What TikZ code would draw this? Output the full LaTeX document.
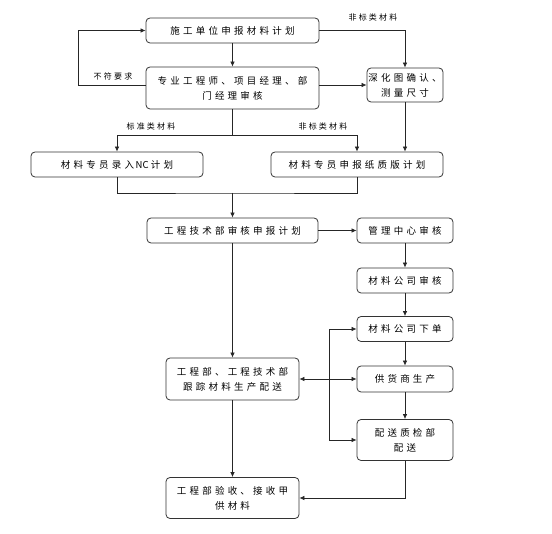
\documentclass[tikz,border=0pt]{standalone}
\usepackage{fontspec}
\usepackage{tikz}
\usetikzlibrary{arrows.meta}
\newfontfamily\cjk[LetterSpace=34]{Noto Sans CJK SC}
\newfontfamily\cjkplain{Noto Sans CJK SC}
\newfontfamily\cjksmall[LetterSpace=28]{Noto Sans CJK SC}

\begin{document}
\begin{tikzpicture}[x=1pt, y=-1pt]
        \tikzstyle{every node}=[inner sep=0pt, align=center]
        \tikzstyle{box}=[draw=black!80, line width=0.8pt, rounded corners=4pt, font=\cjk\fontsize{9.5}{15}\selectfont]
        \tikzstyle{tag}=[font=\cjksmall\fontsize{8}{10}\selectfont]
        \tikzstyle{line}=[draw=black!85, line width=0.7pt]
        \tikzstyle{arr}=[line, -{Latex[length=5pt, width=4.5pt]}]

        \useasboundingbox (0,0) rectangle (552,534);

        \node (plan)    [box, minimum width=173pt, minimum height=25pt] at (232.5,30.5) {施工单位申报材料计划};
        \node (check)   [box, minimum width=173pt, minimum height=42pt] at (232.5,88) {专业工程师、项目经理、部\\门经理审核};
        \node (detail)  [box, minimum width=76pt,  minimum height=34pt] at (405,85) {深化图确认、\\测量尺寸};
        \node (nc)      [box, minimum width=172pt, minimum height=25pt] at (117,164.5) {材料专员录入{\cjkplain\,NC\ }计划};
        \node (paper)   [box, minimum width=172pt, minimum height=25pt] at (357,164.5) {材料专员申报纸质版计划};
        \node (tech)    [box, minimum width=171pt, minimum height=25pt] at (232.5,230.5) {工程技术部审核申报计划};
        \node (mgmt)    [box, minimum width=96pt,  minimum height=25pt] at (405,230.5) {管理中心审核};
        \node (review)  [box, minimum width=96pt,  minimum height=25pt] at (405,280.5) {材料公司审核};
        \node (order)   [box, minimum width=96pt,  minimum height=25pt] at (405,329) {材料公司下单};
        \node (produce) [box, minimum width=96pt,  minimum height=26pt] at (405,379) {供货商生产};
        \node (ship)    [box, minimum width=96pt,  minimum height=41pt] at (405,440) {配送质检部\\配送};
        \node (track)   [box, minimum width=133pt, minimum height=42pt] at (232.5,379) {工程部、工程技术部\\跟踪材料生产配送};
        \node (accept)  [box, minimum width=133pt, minimum height=41pt] at (232.5,498) {工程部验收、接收甲\\供材料};

        % top part
        \draw[arr] (plan) -- (check);
        \draw[arr] (plan.east) -| (detail.north);
        \node (tagtop) [tag] at (373,17) {非标类材料};
        \draw[arr] (check.east |- detail) -- (detail.west);
        \draw[arr] (check.west |- detail) -- ++(-67,0) |- (plan.west);
        \node (tagback) [tag] at (113,76) {不符要求};

        % split into two plans
        \coordinate (split) at (232.5,135);
        \draw[line] (check) -- (split);
        \draw[arr] (split) -| (nc.north);
        \draw[arr] (split) -| (paper.north);
        \draw[arr] (detail) -- (detail |- paper.north);
        \node (tagstd) [tag] at (151,126) {标准类材料};
        \node (tagnon) [tag] at (323,126) {非标类材料};

        % merge
        \coordinate (merge) at (232.5,193);
        \draw[line] (nc.south) |- (merge) -| (paper.south);
        \draw[arr] (merge) -- (tech);

        % right column
        \draw[arr] (tech) -- (mgmt);
        \draw[arr] (mgmt) -- (review);
        \draw[arr] (review) -- (order);
        \draw[arr] (order) -- (produce);
        \draw[arr] (produce) -- (ship);
        \coordinate (loop) at (329,379);
        \draw[arr] (loop) |- (order.west);
        \draw[arr] (loop) |- (ship.west);
        \draw[arr, {Latex[length=5pt, width=4.5pt]}-{Latex[length=5pt, width=4.5pt]}] (track) -- (produce);

        % left column
        \draw[arr] (tech) -- (track);
        \draw[arr] (track) -- (accept);
        \draw[arr] (ship.south) |- (accept.east);
\end{tikzpicture}
\end{document}
